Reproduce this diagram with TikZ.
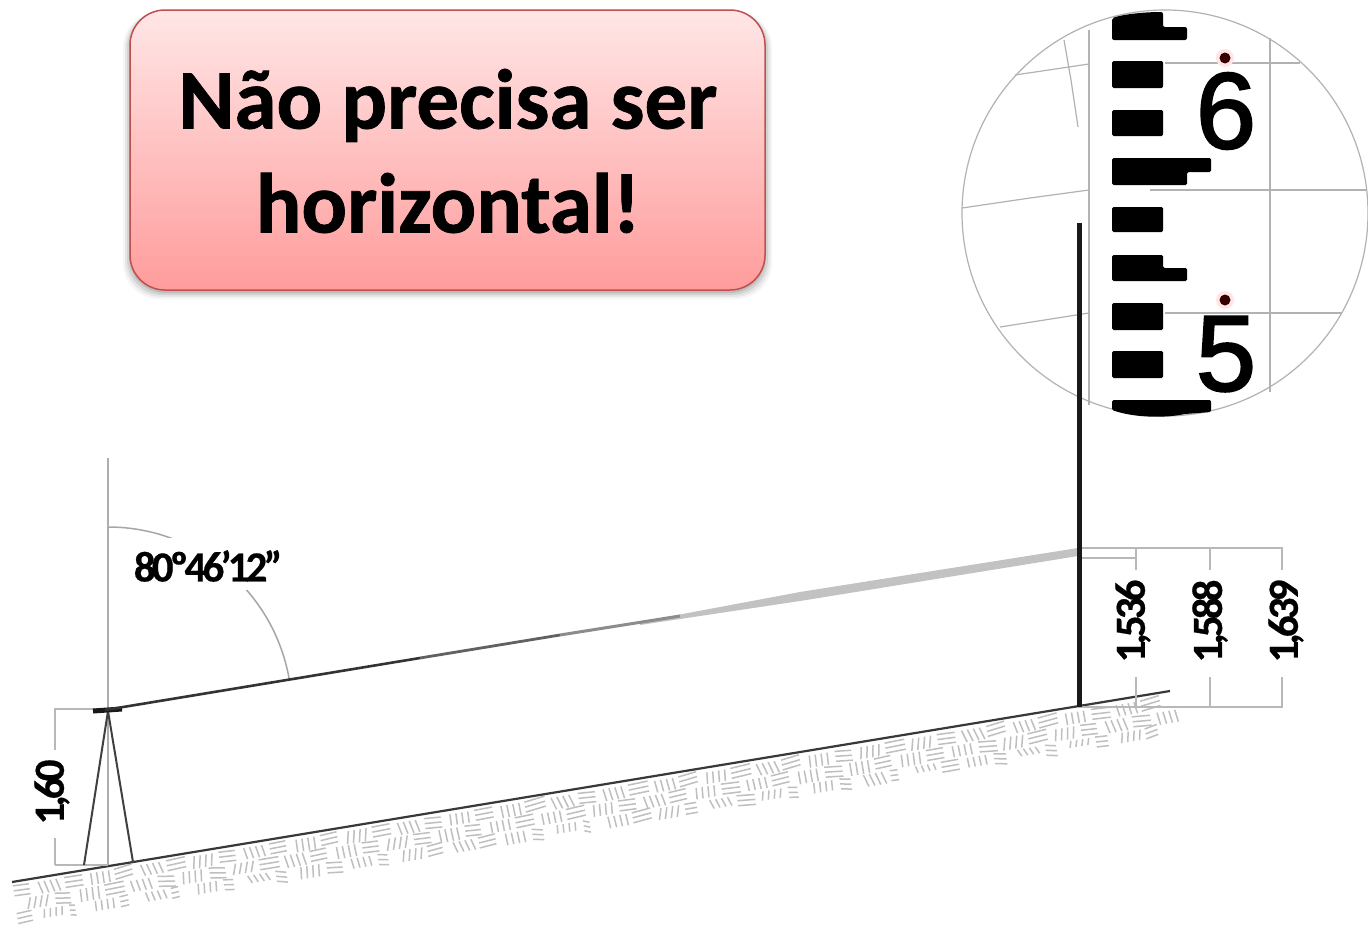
\documentclass[tikz,border=0pt]{standalone}
\usepackage{fontspec}
\setmainfont{Carlito}[BoldFeatures={FakeBold=0.9}]
\newfontfamily\digitfont[FakeBold=2]{Liberation Sans}
\newfontfamily\tightfont[LetterSpace=-9,BoldFeatures={FakeBold=0.5}]{Carlito}
\definecolor{boxtop}{HTML}{FFE6E6}
\definecolor{boxbottom}{HTML}{FF9C9C}
\definecolor{boxedge}{HTML}{C0504D}
\tikzset{
  thin gray/.style={draw=black!32,line width=1.4pt},
  reticle/.style={draw=black!30,line width=1.2pt},
  dimline/.style={draw=black!28,line width=1.8pt},
  staffmark/.style={fill=black,draw=none},
  lab/.style={font=\tightfont\bfseries\fontsize{43}{43}\selectfont,inner sep=0pt,text=black},
  vlab/.style={lab,rotate=90},
  patch/.style={fill=white,draw=none},
  headline/.style={font=\bfseries\fontsize{85}{104}\selectfont,align=center,inner sep=0pt},
  hatch/.style={draw=black!25,line width=1.5pt}
}
\begin{document}
\begin{tikzpicture}[x=1pt,y=-1pt]
\useasboundingbox (0,0) rectangle (1368,924);
\fill[white] (0,0) rectangle (1368,924);
% callout
\foreach \d/\o in {7/.04,5/.06,3/.08,1/.10}{
  \fill[black,opacity=\o,rounded corners=36pt] (130-\d,12) rectangle (765+\d,292+\d);
}
\shade[top color=boxtop,bottom color=boxbottom,draw=boxedge,line width=1.5pt,rounded corners=35pt]
  (130,10) rectangle (765,290);
\node[headline] (head) at (448,151) {Não precisa ser\\horizontal!};
% reticle
\draw[reticle] (1165,213) circle[radius=203];
\draw[reticle] (1089,30) -- (1089,405);
\draw[reticle] (1270,38) -- (1270,392);
\draw[reticle] (1165,63) -- (1300,63);
\draw[reticle] (1150,190) -- (1366,190);
\draw[reticle] (1165,313) -- (1342,313);
\draw[reticle] (1015,75) -- (1089,64);
\draw[reticle] (962,208) -- (1030,198) -- (1089,190);
\draw[reticle] (1000,327) -- (1089,313);
\draw[reticle] (1064,40) -- (1071,80) -- (1078,127);
% staff marks
\fill[staffmark,rounded corners=2pt] (1112,18) .. controls (1125,14) and (1145,12) .. (1163,12) -- (1163,27) -- (1187,27) -- (1187,40) -- (1112,40) -- cycle;
\foreach \a/\b in {61/88,110/136,207/232,303/330,351/378}{
  \fill[staffmark,rounded corners=1.5pt] (1112,\a) rectangle (1163,\b);
}
\fill[staffmark,rounded corners=1.5pt] (1112,158) -- (1211,158) -- (1211,172) -- (1187,172) -- (1187,185) -- (1112,185) -- cycle;
\fill[staffmark,rounded corners=1.5pt] (1112,255) -- (1163,255) -- (1163,268) -- (1187,268) -- (1187,281) -- (1112,281) -- cycle;
\fill[staffmark,rounded corners=1.5pt] (1112,400) -- (1211,400) -- (1211,412) -- (1185,414) .. controls (1165,418) and (1135,418) .. (1112,410) -- cycle;
\node[font=\digitfont\fontsize{108}{108}\selectfont,inner sep=0pt] (six) at (1226,111) {6};
\node[font=\digitfont\fontsize{108}{108}\selectfont,inner sep=0pt] (five) at (1226,354) {5};
\fill[red!10] (1225,58) circle[radius=9] (1225,300) circle[radius=9];
\fill[black!70!red!70!black] (1225,58) circle[radius=5.5] (1225,300) circle[radius=5.5];
% ground hatching
\pgfmathsetseed{4217}
\begin{scope}
\clip (0,0) rectangle (1368,924);
\begin{scope}[shift={(12,882)},rotate=9.3]
\foreach \i in {0,...,44}{
  \foreach \j in {0,1,2}{
    \pgfmathsetmacro{\hu}{\i*26+mod(\j,2)*13}
    \pgfmathsetmacro{\hv}{3+\j*14}
    \pgfmathtruncatemacro{\hp}{mod(\i+\j,2)}
    \pgfmathsetmacro{\hs}{(\j==2 ? 14 : 4)*rnd}
    \pgfmathsetmacro{\ht}{-4+8*rnd}
    \ifnum\hp=0
      \foreach \k in {1,6,11}{\draw[hatch] (\hu+\ht*.4,\hv+\k) -- (\hu+20-\hs,\hv+\k+\ht*.7);}
    \else
      \foreach \k in {1,7,13,19}{\draw[hatch] (\hu+\k+\ht*.4,\hv+1) -- (\hu+\k-\ht*.6,\hv+14-\hs*.5);}
    \fi
  }
}
\end{scope}
\end{scope}
% ground line
\draw[black!78,line width=2.2pt] (12,882) -- (1170,691);
% instrument side dimension
\draw[dimline] (54,709) -- (95,709);
\draw[dimline] (55,709) -- (55,865);
\draw[dimline] (55,865) -- (108,865);
\draw[thin gray] (108,458) -- (108,865);
\draw[black!75,line width=2pt] (108,711) -- (84,865);
\draw[black!75,line width=2pt] (108,711) -- (133,862);
\draw[black!90,line width=5pt] (93,711) -- (122,709);
\draw[black!35,line width=1.5pt] (108,527) arc[start angle=-90,end angle=-9.6,radius=184];
% line of sight
\fill[black!24] (640,622) -- (800,592) -- (1078,548) -- (1078,556) -- (800,601) -- (640,625) -- cycle;
\draw[black!80,line width=2.6pt] (105,710) -- (420,658);
\draw[black!62,line width=2.8pt] (420,658) -- (560,635);
\draw[black!45,line width=3pt] (560,635) -- (680,616);
% staff side dimensions
\draw[dimline] (1078,548) -- (1283,548);
\draw[dimline] (1078,558) -- (1136,558);
\draw[dimline] (1078,707) -- (1283,707);
\foreach \x in {1136,1210,1282}{\draw[dimline] (\x,548) -- (\x,707);}
% rod
\draw[black!90,line width=5pt] (1079,223) -- (1079,707);
% label patches and labels
\fill[patch] (1113,570) rectangle (1304,677);
\fill[patch] (127,538) rectangle (281,590);
\fill[patch] (38,750) rectangle (76,838);
\node[lab] (angle) at (208,566) {80º46’12”};
\node[vlab] (a) at (1133,621) {1,536};
\node[vlab] (b) at (1210,621) {1,588};
\node[vlab] (c) at (1286,621) {1,639};
\node[vlab] (d) at (52,792) {1,60};
\end{tikzpicture}
\end{document}
